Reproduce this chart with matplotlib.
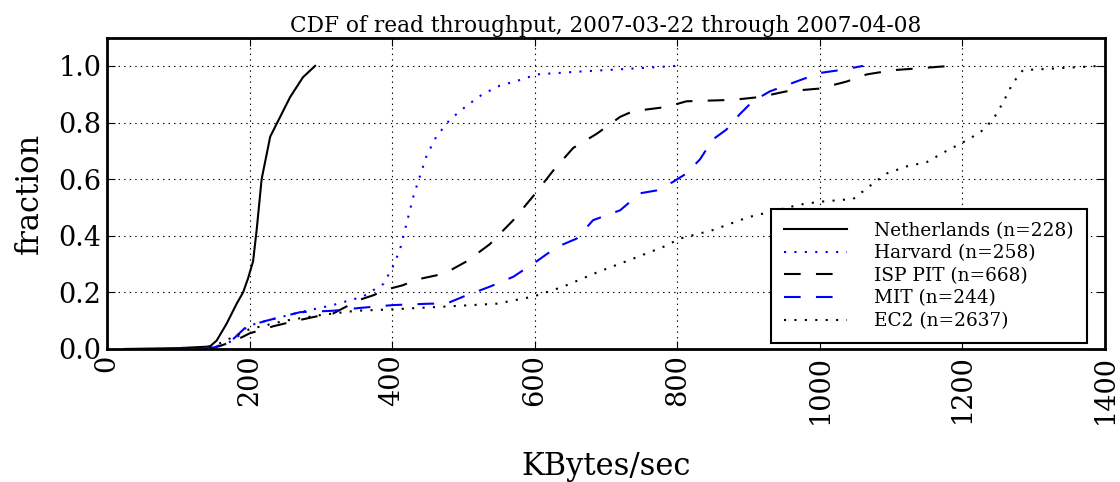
import matplotlib
matplotlib.use('Agg')
import matplotlib.pyplot as plt

plt.rcParams['font.family'] = 'DejaVu Serif'
plt.rcParams['lines.scale_dashes'] = False

# data (KBytes/sec, cumulative fraction)
nl_x = [25, 100, 140, 145, 154, 168, 182, 191, 198, 205, 210, 217, 229, 243, 257, 275, 292]
nl_y = [0, 0.003, 0.008, 0.01, 0.03, 0.09, 0.16, 0.2, 0.25, 0.31, 0.42, 0.60, 0.75, 0.82, 0.89, 0.96, 1.0]

harv_x = [70, 120, 158, 177, 191, 196, 224, 271, 317, 359, 388, 401, 411, 420, 430, 439, 448, 462,
          481, 505, 527, 551, 579, 603, 663, 734, 799]
harv_y = [0, 0.003, 0.01, 0.03, 0.06, 0.08, 0.10, 0.13, 0.155, 0.185, 0.23, 0.29, 0.35, 0.44, 0.54,
          0.61, 0.68, 0.75, 0.81, 0.86, 0.90, 0.93, 0.95, 0.97, 0.98, 0.99, 1.0]

isp_x = [145, 177, 200, 233, 266, 294, 317, 336, 350, 374, 392, 415, 434, 462, 476, 505, 537, 570,
         598, 626, 654, 687, 720, 738, 785, 813, 878, 916, 953, 1000, 1038, 1066, 1103, 1131, 1183]
isp_y = [0, 0.026, 0.055, 0.08, 0.10, 0.115, 0.125, 0.15, 0.17, 0.19, 0.21, 0.225, 0.245, 0.26, 0.27,
         0.31, 0.37, 0.455, 0.54, 0.63, 0.71, 0.76, 0.82, 0.84, 0.855, 0.875, 0.88, 0.89, 0.91, 0.92,
         0.945, 0.97, 0.985, 0.99, 1.0]

mit_x = [90, 150, 175, 196, 224, 271, 317, 355, 401, 453, 476, 500, 537, 570, 603, 631, 659, 682,
         720, 748, 771, 794, 813, 832, 850, 869, 888, 906, 930, 962, 1000, 1028, 1061]
mit_y = [0, 0.005, 0.03, 0.08, 0.10, 0.13, 0.135, 0.145, 0.155, 0.16, 0.16, 0.185, 0.22, 0.255,
         0.31, 0.36, 0.39, 0.455, 0.49, 0.55, 0.56, 0.59, 0.62, 0.67, 0.74, 0.775, 0.83, 0.875,
         0.91, 0.94, 0.975, 0.985, 1.0]

ec2_x = [100, 150, 200, 250, 300, 350, 401, 476, 547, 598, 640, 687, 734, 780, 804, 850, 888, 902,
         972, 1000, 1047, 1075, 1094, 1122, 1150, 1178, 1201, 1225, 1243, 1257, 1271, 1285, 1323, 1393]
ec2_y = [0, 0.01, 0.07, 0.10, 0.12, 0.135, 0.14, 0.15, 0.16, 0.185, 0.22, 0.27, 0.315, 0.36, 0.39,
         0.42, 0.455, 0.467, 0.51, 0.52, 0.53, 0.585, 0.62, 0.645, 0.66, 0.70, 0.73, 0.765, 0.81,
         0.87, 0.94, 0.985, 0.99, 1.0]

labels = ['Netherlands (n=228)', 'Harvard (n=258)', 'ISP PIT (n=668)', 'MIT (n=244)', 'EC2 (n=2637)']

fig = plt.figure(figsize=(11.2, 4.82), dpi=100)
ax = fig.add_axes([0.0955, 0.276, 0.891, 0.646])

ax.plot(nl_x, nl_y, color='black', linewidth=1.5, label=labels[0])
ax.plot(harv_x, harv_y, color='blue', linewidth=1.5, linestyle=(0, (1.5, 6)), label=labels[1])
ax.plot(isp_x, isp_y, color='black', linewidth=1.5, linestyle=(0, (12, 11)), label=labels[2])
ax.plot(mit_x, mit_y, color='blue', linewidth=1.5, linestyle=(0, (12, 11)), label=labels[3])
ax.plot(ec2_x, ec2_y, color='black', linewidth=1.5, linestyle=(0, (1.5, 6)), label=labels[4])

ax.set_xlim(0, 1400)
ax.set_ylim(0, 1.1)
ax.set_xticks([0, 200, 400, 600, 800, 1000, 1200, 1400])
ax.set_yticks([0.0, 0.2, 0.4, 0.6, 0.8, 1.0])
ax.set_yticklabels(['0.0', '0.2', '0.4', '0.6', '0.8', '1.0'])
ax.tick_params(direction='in', top=True, right=True, length=6, labelsize=19.5, pad=4)
ax.tick_params(axis='x', labelrotation=90)
ax.grid(True, color='black', linestyle=(0, (1, 3)), linewidth=0.8)
for s in ax.spines.values():
    s.set_linewidth(2)

ax.set_title('CDF of read throughput, 2007-03-22 through 2007-04-08', fontsize=15.6, pad=4)
ax.set_xlabel('KBytes/sec', fontsize=22, labelpad=20)
ax.set_ylabel('fraction', fontsize=22, labelpad=10)

leg = ax.legend(loc='lower right', fontsize=13.3, fancybox=False, framealpha=1,
                edgecolor='black', borderpad=0.7, handlelength=3.4, handletextpad=1.5,
                labelspacing=0.25, borderaxespad=0, bbox_to_anchor=(0.982, 0.019))
leg.get_frame().set_linewidth(1.5)

fig.savefig('out.png', dpi=100)
